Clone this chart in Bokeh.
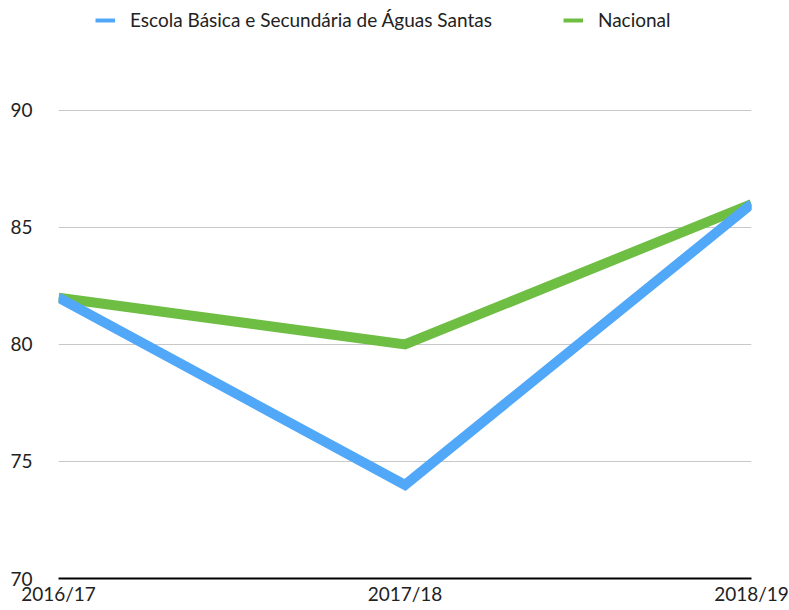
from bokeh.plotting import figure
from bokeh.models import Legend, LegendItem, FixedTicker, Range1d
from bokeh.embed import file_html
from bokeh.resources import INLINE

years = ["2016/17", "2017/18", "2018/19"]
escola = [82, 74, 86]
nacional = [82, 80, 86]
y_ticks = [70, 75, 80, 85, 90]
series_names = ["Escola Básica e Secundária de Águas Santas", "Nacional"]
colors = ["#52a8f8", "#6fbe44"]

FONT = "Lato"
FS = "19px"
TXT = "#222222"
xs = list(range(len(years)))
nan = float("nan")

p = figure(width=789, height=610, output_backend="svg", toolbar_location=None,
           x_range=Range1d(0, len(years) - 1), y_range=Range1d(70, 94.7),
           min_border_left=58, min_border_right=38, min_border_top=0, min_border_bottom=32)
p.outline_line_color = None
p.background_fill_color = "white"

p.xgrid.grid_line_color = None
p.ygrid.grid_line_color = "#c8c8c8"
p.ygrid.grid_line_width = 1
p.ygrid.ticker = FixedTicker(ticks=[75, 80, 85, 90])

p.yaxis.ticker = FixedTicker(ticks=y_ticks)
p.yaxis.axis_line_color = None
p.yaxis.major_tick_line_color = None
p.yaxis.minor_tick_line_color = None
p.yaxis.major_tick_out = 0
p.yaxis.major_tick_in = 0
p.yaxis.minor_tick_out = 0
p.yaxis.major_label_standoff = 26
p.yaxis.major_label_text_font = FONT
p.yaxis.major_label_text_font_size = FS
p.yaxis.major_label_text_color = TXT

p.xaxis.ticker = FixedTicker(ticks=xs)
p.xaxis.major_label_overrides = {i: y for i, y in enumerate(years)}
p.xaxis.axis_line_color = "black"
p.xaxis.axis_line_width = 2
p.xaxis.major_tick_line_color = None
p.xaxis.minor_tick_line_color = None
p.xaxis.major_tick_out = 0
p.xaxis.major_tick_in = 0
p.xaxis.minor_tick_out = 0
p.xaxis.major_label_standoff = 3
p.xaxis.major_label_text_font = FONT
p.xaxis.major_label_text_font_size = FS
p.xaxis.major_label_text_color = TXT

p.line(xs, nacional, line_color=colors[1], line_width=10, line_cap="butt", line_join="miter")
p.line(xs, escola, line_color=colors[0], line_width=10, line_cap="butt", line_join="miter")

r1 = p.line([0, 1], [nan, nan], line_color=colors[0], line_width=4)
r2 = p.line([0, 1], [nan, nan], line_color=colors[1], line_width=4)

legend = Legend(items=[LegendItem(label=series_names[0], renderers=[r1], index=0),
                       LegendItem(label=series_names[1], renderers=[r2], index=0)],
                orientation="horizontal", location=(37, 578 - 31),
                margin=0, padding=0, spacing=71, glyph_width=20, glyph_height=20,
                label_standoff=15, label_height=20,
                label_text_font=FONT, label_text_font_size=FS, label_text_color=TXT,
                border_line_color=None, background_fill_alpha=0)
p.add_layout(legend, "center")

open("out.html", "w").write(file_html(p, INLINE))
